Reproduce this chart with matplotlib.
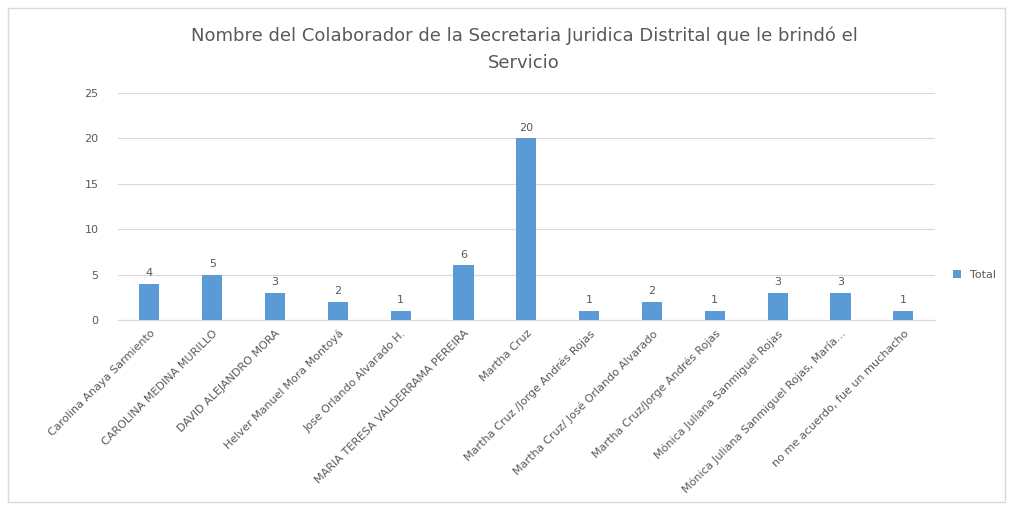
import matplotlib.pyplot as plt
from matplotlib.patches import Rectangle

nombres = ['Carolina Anaya Sarmiento', 'CAROLINA MEDINA MURILLO', 'DAVID ALEJANDRO MORA',
           'Helver Manuel Mora Montoyá', 'Jose Orlando Alvarado H.',
           'MARIA TERESA VALDERRAMA PEREIRA', 'Martha Cruz',
           'Martha Cruz /Jorge Andrés Rojas', 'Martha Cruz/ José Orlando Alvarado',
           'Martha Cruz/Jorge Andrés Rojas', 'Mónica Juliana Sanmiguel Rojas',
           'Mónica Juliana Sanmiguel Rojas, María...', 'no me acuerdo, fue un muchacho']
total = [4, 5, 3, 2, 1, 6, 20, 1, 2, 1, 3, 3, 1]

gris = '#595959'
azul = '#5b9bd5'

fig = plt.figure(figsize=(10.12, 5.07), dpi=100)
ax = fig.add_axes([0.1166, 0.369, 0.807, 0.4476])

x = range(len(nombres))
ax.bar(x, total, width=0.32, color=azul, label='Total', zorder=3)
for xi, v in zip(x, total):
    ax.text(xi, v + 0.6, str(v), ha='center', va='bottom', fontsize=8, color=gris)

ax.set_xlim(-0.5, len(nombres) - 0.5)
ax.set_ylim(0, 25)
ax.set_yticks([0, 5, 10, 15, 20, 25])
ax.grid(axis='y', color='#d9d9d9', linewidth=0.8, zorder=0)
ax.set_xticks(list(x))
ax.set_xticklabels(nombres, rotation=45, ha='right', rotation_mode='anchor',
                   fontsize=8, color=gris)
ax.tick_params(axis='y', labelsize=8, colors=gris, length=0, pad=14)
ax.tick_params(axis='x', length=0, pad=6)
for s in ['top', 'right', 'left']:
    ax.spines[s].set_visible(False)
ax.spines['bottom'].set_color('#d9d9d9')

fig.text(0.518, 0.93, 'Nombre del Colaborador de la Secretaria Juridica Distrital que le brindó el',
         ha='center', va='center', fontsize=13, color=gris)
fig.text(0.518, 0.875, 'Servicio', ha='center', va='center', fontsize=13, color=gris)

ax.legend(loc='center left', bbox_to_anchor=(1.01, 0.2), frameon=False,
          fontsize=8, labelcolor=gris, handlelength=0.7, handleheight=0.7)

fig.patches.append(Rectangle((0.008, 0.01), 0.985, 0.975, transform=fig.transFigure,
                             fill=False, edgecolor='#d9d9d9', linewidth=1))

plt.savefig('out.png')
